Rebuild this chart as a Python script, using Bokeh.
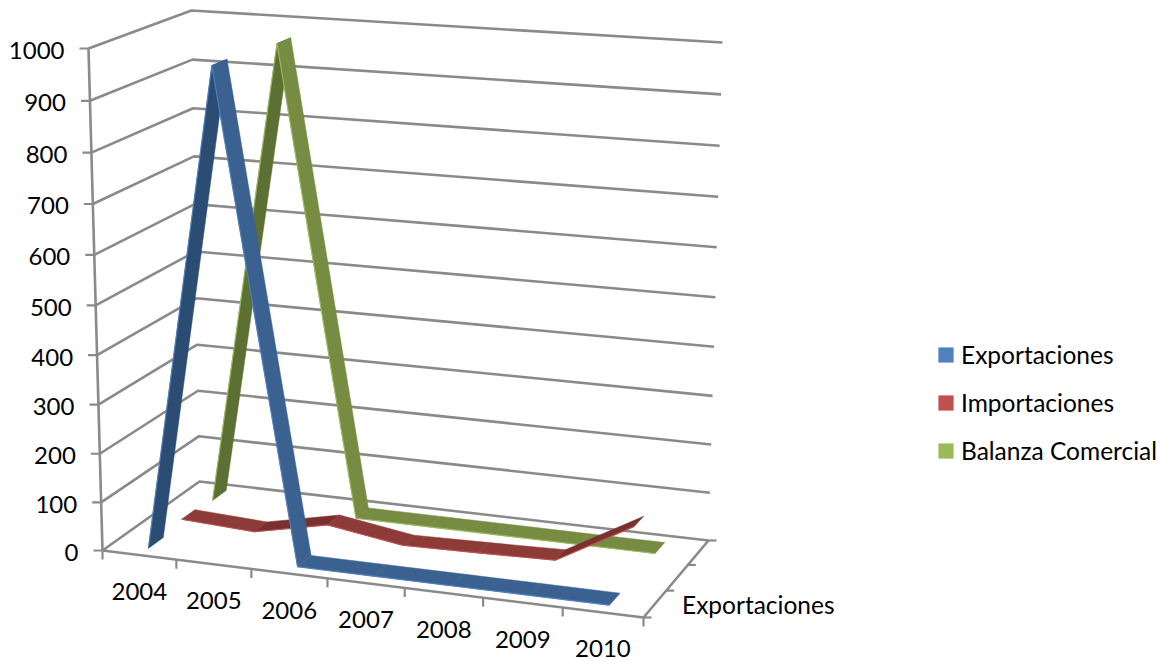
import numpy as np
from bokeh.plotting import figure
from bokeh.embed import file_html
from bokeh.resources import INLINE
from bokeh.models import Range1d, Legend, LegendItem
from bokeh.core.properties import value as fixed

years = ["2004", "2005", "2006", "2007", "2008", "2009", "2010"]
exportaciones = [0, 975, 0, 0, 0, 0, 0]
importaciones = [10, 2, 35, 11, 14, 18, 105]
balanza = [2, 965, 0, 0, 0, 0, 0]
value_ticks = [0, 100, 200, 300, 400, 500, 600, 700, 800, 900, 1000]
depth_label = "Exportaciones"
series_names = ["Exportaciones", "Importaciones", "Balanza Comercial"]
legend_colors = ["#4f81bd", "#c0504d", "#9bbb59"]

FONT = "Lato"
FS = "24.5px"
FS_NUM = "24px"
GRID = "#8a8a8a"

# Perspective frame of the 3D box, in page pixels
floor_corners = [(102, 550), (643, 617), (708, 540), (199, 481)]
top_corners = [(88, 48), (655, 86), (722, 42), (191, 10)]


def homography(c):
    src = [(0, 0), (1, 0), (1, 1), (0, 1)]
    A, b = [], []
    for (u, v), (x, y) in zip(src, c):
        A.append([u, v, 1, 0, 0, 0, -u * x, -v * x]); b.append(x)
        A.append([0, 0, 0, u, v, 1, -u * y, -v * y]); b.append(y)
    return np.append(np.linalg.solve(np.array(A, float), np.array(b, float)), 1).reshape(3, 3)


HF, HT = homography(floor_corners), homography(top_corners)


def project(u, w, val):
    t = val / 1000.0
    t = t * 0.955 / (t * 0.955 + (1 - t))
    f = HF @ np.array([u, w, 1.0]); f = f[:2] / f[2]
    g = HT @ np.array([u, w, 1.0]); g = g[:2] / g[2]
    return f + (g - f) * t


p = figure(width=1167, height=662, x_range=Range1d(0, 1167), y_range=Range1d(662, 0),
           output_backend="svg", toolbar_location=None, min_border=0,
           outline_line_color=None, background_fill_color="white")
p.axis.visible = False
p.grid.visible = False


def seg(a, b, width=2.6):
    p.line([a[0], b[0]], [a[1], b[1]], line_color=GRID, line_width=width)


# frame
seg(project(0, 0, 0), project(1, 0, 0))
seg(project(1, 0, 0), project(1, 1, 0))
seg(project(0, 0, 0), project(0, 0, 1000))
for v in value_ticks:
    a, b, c = project(0, 0, v), project(0, 1, v), project(1, 1, v)
    p.line([a[0], b[0], c[0]], [a[1], b[1], c[1]], line_color=GRID, line_width=2.6)
    p.line([a[0] - 9, a[0]], [a[1], a[1]], line_color=GRID, line_width=2.2)

# ticks along the category axis
for i in range(len(years) + 1):
    a = project(i / len(years), 0, 0)
    p.line([a[0], a[0]], [a[1], a[1] + 9], line_color=GRID, line_width=2.2)
# ticks along the depth axis
for k in range(4):
    a = project(1, k / 3, 0)
    p.line([a[0], a[0] + 8], [a[1], a[1]], line_color=GRID, line_width=2.2)


def ribbon(vals, w0, w1, flat, up, edge):
    n = len(vals)
    xs, ys, cols = [], [], []
    ex, ey = [], []
    for i in range(n - 1):
        u0, u1 = (i + .5) / n, (i + 1.5) / n
        a, b = project(u0, w0, vals[i]), project(u1, w0, vals[i + 1])
        c, d = project(u1, w1, vals[i + 1]), project(u0, w1, vals[i])
        xs.append([a[0], b[0], c[0], d[0]])
        ys.append([a[1], b[1], c[1], d[1]])
        cols.append(up if vals[i + 1] > vals[i] + 5 else flat)
        ex.append([a[0], b[0]]); ey.append([a[1], b[1]])
    for i in range(len(xs)):
        p.patch(xs[i], ys[i], fill_color=cols[i], line_color=cols[i], line_width=0.5)
        p.line(ex[i], ey[i], line_color=edge, line_width=1.1)


ribbon(balanza, 0.76, 0.91, "#758c42", "#5d7033", "#9bbb59")
ribbon(importaciones, 0.43, 0.57, "#8c3b39", "#7a302f", "#c0504d")
ribbon(exportaciones, 0.09, 0.24, "#3b6190", "#2b4d73", "#4f81bd")

# value labels
tx, ty, tt = [], [], []
for v in value_ticks:
    a = project(0, 0, v)
    tx.append(a[0] - 24); ty.append(a[1] + 2); tt.append(str(v))
p.text(tx, ty, text=tt, text_font=fixed(FONT), text_font_size=FS_NUM, text_color="black",
       text_align="right", text_baseline="middle")

# category labels
tx, ty = [], []
for i in range(len(years)):
    a = project((i + .5) / len(years), 0, 0)
    tx.append(a[0]); ty.append(a[1] + 36.5)
p.text(tx, ty, text=years, text_font=fixed(FONT), text_font_size=FS_NUM, text_color="black",
       text_align="center", text_baseline="middle")

# depth label
a = project(1, 1 / 6, 0)
p.text([a[0] + 27], [a[1] + 1], text=[depth_label], text_font=fixed(FONT), text_font_size=FS,
       text_color="black", text_align="left", text_baseline="middle")

# legend
items = []
for name, col in zip(series_names, legend_colors):
    r = p.quad(left=[np.nan], right=[np.nan], top=[np.nan], bottom=[np.nan],
               fill_color=col, line_color=None)
    items.append(LegendItem(label=name, renderers=[r]))
leg = Legend(items=items, location=(936, 197), orientation="vertical", padding=0, margin=0,
             spacing=19, glyph_width=19, glyph_height=19, label_height=15,
             label_standoff=6, border_line_color=None, background_fill_alpha=0,
             label_text_font=FONT, label_text_font_size=FS, label_text_color="black")
p.add_layout(leg, "center")

open("out.html", "w").write(file_html(p, INLINE))
